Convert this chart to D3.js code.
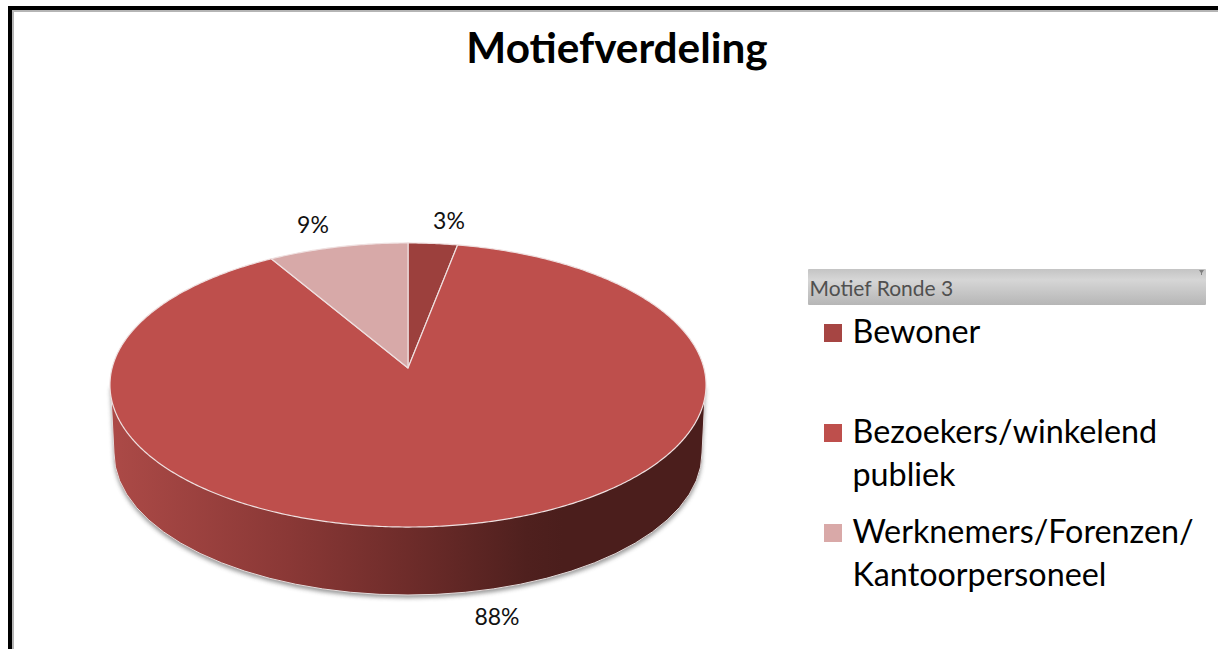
<!DOCTYPE html>
<html><head><meta charset="utf-8">
<style>html,body{margin:0;padding:0;background:#fff;overflow:hidden}svg{display:block}text{font-family:Lato,"Open Sans",sans-serif}</style>
<script src="https://cdn.jsdelivr.net/npm/d3@7"></script>
</head><body>
<script>
const title = "Motiefverdeling";
const legendTitle = "Motief Ronde 3";
const categories = ["Bewoner", "Bezoekers/winkelend publiek", "Werknemers/Forenzen/ Kantoorpersoneel"];
const legendLines = [["Bewoner"], ["Bezoekers/winkelend", "publiek"], ["Werknemers/Forenzen/", "Kantoorpersoneel"]];
const values = [3.0, 88.49, 8.51];
const colors = ["#9C403D", "#BE4F4C", "#D7A9A8"];
const legendColors = ["#A64543", "#BE4F4C", "#D9A9A8"];

const W = 1218, H = 649;
const svg = d3.select("body").append("svg").attr("width", W).attr("height", H);
const defs = svg.append("defs");

// frame
svg.append("path").attr("d", `M13 ${H}V11H${W}`).attr("fill", "none").attr("stroke", "#b5b5b5").attr("stroke-width", 2);
svg.append("path").attr("d", `M10 ${H}V8H${W}`).attr("fill", "none").attr("stroke", "#000").attr("stroke-width", 4);

svg.append("text").attr("x", 617).attr("y", 63).attr("text-anchor", "middle")
  .attr("font-size", 42.3).attr("font-weight", 700).attr("fill", "#000").text(title);

// 3D pie: perspective projection of the unit disc
const cx = 408, cy = 368, A = 295.9, B = 140, k = 0.1197;
const project = a => {
  const u = Math.sin(a), v = -Math.cos(a), d = 1 - k * v;
  return [cx + A * u / d, cy + B * v / d];
};
const pie = d3.pie().sort(null).startAngle(0).endAngle(2 * Math.PI)(values);
const line = d3.line();
const rim = (a0, a1) => {
  const n = Math.max(2, Math.ceil((a1 - a0) / 0.01));
  return d3.range(n + 1).map(i => project(a0 + (a1 - a0) * i / n));
};

// wall geometry
const ellTop = {cx: 408, cy: 385, rx: 297.5};
const ellBot = {cx: 408, cy: 453, rx: 294, ry: 142};
const wallPath = `M${ellTop.cx - ellTop.rx} ${ellTop.cy}` +
  `L${ellTop.cx + ellTop.rx} ${ellTop.cy}` +
  `L${ellBot.cx + ellBot.rx} ${ellBot.cy}` +
  `A${ellBot.rx} ${ellBot.ry} 0 0 1 ${ellBot.cx - ellBot.rx} ${ellBot.cy}Z`;

const grad = defs.append("linearGradient").attr("id", "wall").attr("gradientUnits", "userSpaceOnUse")
  .attr("x1", 110).attr("x2", 706).attr("y1", 0).attr("y2", 0);
[[0, "#AC4A47"], [0.3, "#8A3836"], [0.5, "#6E2C2A"], [0.7, "#4F201E"], [0.76, "#4B1E1C"], [1, "#4B1E1C"]]
  .forEach(([o, c]) => grad.append("stop").attr("offset", o).attr("stop-color", c));
const blur = defs.append("filter").attr("id", "blur").attr("x", "-5%").attr("y", "-5%").attr("width", "110%").attr("height", "110%");
blur.append("feGaussianBlur").attr("stdDeviation", 2.2);

svg.append("path").attr("d", wallPath).attr("fill", "#555").attr("opacity", 0.6)
  .attr("transform", "translate(0,3)").attr("filter", "url(#blur)");
svg.append("path").attr("d", wallPath).attr("fill", "url(#wall)").attr("stroke", "#e4dcdc").attr("stroke-width", 1);

// slices
svg.append("g").selectAll("path").data(pie).join("path")
  .attr("d", d => line([[cx, cy], ...rim(d.startAngle, d.endAngle)]) + "Z")
  .attr("fill", (d, i) => colors[i])
  .attr("stroke", "#efe0e0").attr("stroke-width", 1.2).attr("stroke-linejoin", "round");

// data labels
const labelPos = [[449, 229], [497, 625], [313, 233]];
svg.append("g").selectAll("text").data(values).join("text")
  .attr("x", (d, i) => labelPos[i][0]).attr("y", (d, i) => labelPos[i][1])
  .attr("text-anchor", "middle").attr("font-size", 23).attr("fill", "#111")
  .text(d => Math.round(d) + "%");

// legend header
const hg = defs.append("linearGradient").attr("id", "hdr").attr("x1", 0).attr("x2", 0).attr("y1", 0).attr("y2", 1);
[[0, "#c4c4c4"], [0.3, "#d6d6d6"], [1, "#b6b6b6"]].forEach(([o, c]) => hg.append("stop").attr("offset", o).attr("stop-color", c));
svg.append("rect").attr("x", 808).attr("y", 269).attr("width", 398).attr("height", 36).attr("rx", 1).attr("fill", "url(#hdr)");
svg.append("text").attr("x", 809.5).attr("y", 296).attr("font-size", 21).attr("fill", "#505050").text(legendTitle);
svg.append("path").attr("d", "M1199 270h5l-2 3v2h-1v-2z").attr("fill", "#808080");

// legend items
const itemY = [343, 443, 543];
const leg = svg.append("g").selectAll("g").data(categories).join("g");
leg.append("rect").attr("x", 824).attr("y", (d, i) => itemY[i] - 19).attr("width", 18).attr("height", 18)
  .attr("fill", (d, i) => legendColors[i]);
leg.each(function (d, i) {
  d3.select(this).selectAll("text").data(legendLines[i]).join("text")
    .attr("x", 852.5).attr("y", (t, j) => itemY[i] + j * 43)
    .attr("font-size", 32.3).attr("fill", "#000").text(t => t);
});
</script>
</body></html>
